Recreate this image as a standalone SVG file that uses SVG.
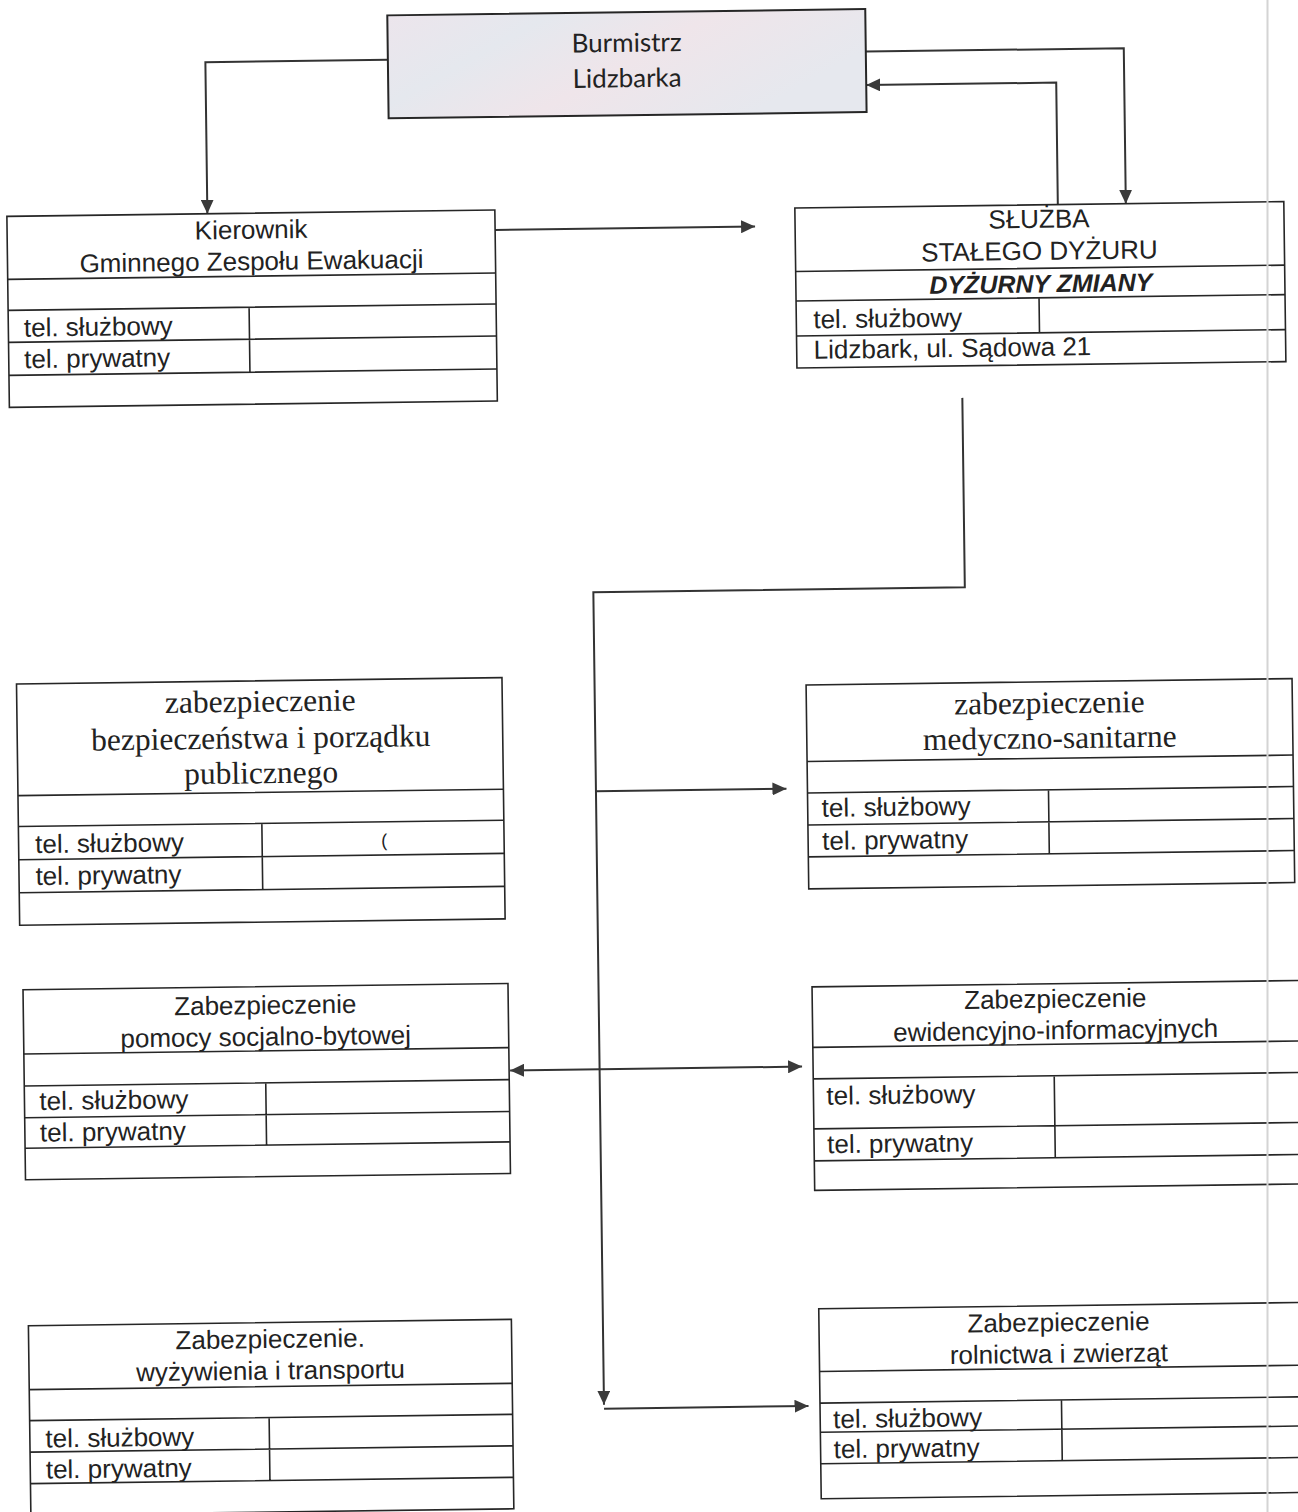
<svg xmlns="http://www.w3.org/2000/svg" width="1298" height="1512" viewBox="0 0 1298 1512">
<style>
.box{fill:#ffffff;stroke:#262626;stroke-width:1.6}
.ln{stroke:#262626;stroke-width:1.6;fill:none}
.t{font-family:"Liberation Sans",Arial,sans-serif;font-size:26px;fill:#222}
.c{text-anchor:middle}
.s{font-family:"Liberation Serif","Times New Roman",serif;font-size:31.5px;fill:#222;text-anchor:middle}
.cal{font-family:Lato,"Open Sans",sans-serif;font-size:26px;fill:#222;text-anchor:middle}
.bi{font-weight:bold;font-style:italic;font-size:25px}
.con{stroke:#333;stroke-width:2;fill:none}
</style>
<defs>
<marker id="ah" markerUnits="userSpaceOnUse" markerWidth="15" markerHeight="13" refX="14" refY="6.5" orient="auto-start-reverse">
<path d="M0,0 L14,6.5 L0,13 Z" fill="#3a3a3a"/>
</marker>
<linearGradient id="pastel" x1="0" y1="0" x2="1" y2="0.4">
<stop offset="0" stop-color="#ece5ec"/>
<stop offset="0.3" stop-color="#e5e8ee"/>
<stop offset="0.6" stop-color="#efe5ea"/>
<stop offset="1" stop-color="#e6e8ee"/>
</linearGradient>
</defs>
<rect x="0" y="0" width="1298" height="1512" fill="#ffffff"/>
<g transform="rotate(-0.75 649 756)">
<g id="connectors">
<path class="con" d="M397,56.5 H214.5 V208" marker-end="url(#ah)"/>
<path class="con" d="M875,54.5 H1133 V210" marker-end="url(#ah)"/>
<path class="con" d="M1065,210 V88 H875" marker-end="url(#ah)"/>
<path class="con" d="M502,228 H762" marker-end="url(#ah)"/>
<path class="con" d="M967,402 V591.5 H595.5 V1404" marker-end="url(#ah)"/>
<path class="con" d="M595.5,1408 H800" marker-end="url(#ah)"/>
<path class="con" d="M595.5,790.5 H786" marker-end="url(#ah)"/>
<path class="con" d="M506,1068.6 H798" marker-start="url(#ah)" marker-end="url(#ah)"/>
</g>
<g id="burmistrz">
<rect x="397" y="12" width="478" height="103" fill="url(#pastel)" stroke="#262626" stroke-width="2"/>
<text class="cal" x="636" y="51.5">Burmistrz</text>
<text class="cal" x="636" y="87">Lidzbarka</text>
</g>
<g id="kierownik">
<rect class="box" x="14" y="208" width="488" height="191"/>
<path class="ln" d="M14,271 H502 M14,302 H502 M14,334 H502 M14,367 H502 M255,302 V367"/>
<text class="t c" x="258" y="233.5">Kierownik</text>
<text class="t c" x="258" y="265">Gminnego Zespołu Ewakuacji</text>
<text class="t" x="29.5" y="328.5">tel. służbowy</text>
<text class="t" x="29.5" y="360">tel. prywatny</text>
</g>
<g id="sluzba">
<rect class="box" x="802" y="210" width="489" height="160"/>
<path class="ln" d="M802,273.5 H1291 M802,303 H1291 M802,338 H1291 M1045,303 V338"/>
<text class="t c" x="1046" y="233">SŁUŻBA</text>
<text class="t c" x="1046" y="265">STAŁEGO DYŻURU</text>
<text class="t c bi" x="1047" y="297.5">DYŻURNY ZMIANY</text>
<text class="t" x="819" y="330.5">tel. służbowy</text>
<text class="t" x="819" y="361">Lidzbark, ul. Sądowa 21</text>
</g>
<g id="bezpieczenstwo">
<rect class="box" x="17.5" y="675.7" width="485.5" height="241.3"/>
<path class="ln" d="M17.5,787.4 H503 M17.5,818.3 H503 M17.5,851.5 H503 M17.5,884.5 H503 M261,818.3 V884.5"/>
<text class="s" x="261" y="706.6">zabezpieczenie</text>
<text class="s" x="261" y="743.2">bezpieczeństwa i porządku</text>
<text class="s" x="261" y="778.2">publicznego</text>
<text class="t" x="380" y="843" style="font-size:18px">(</text>
<text class="t" x="34" y="845">tel. służbowy</text>
<text class="t" x="34" y="877">tel. prywatny</text>
</g>
<g id="pomoc">
<rect class="box" x="20" y="981.6" width="485" height="190"/>
<path class="ln" d="M20,1045.8 H505 M20,1077.8 H505 M20,1109.6 H505 M20,1140 H505 M261.5,1077.8 V1140"/>
<text class="t c" x="262" y="1009">Zabezpieczenie</text>
<text class="t c" x="262" y="1040.5">pomocy socjalno-bytowej</text>
<text class="t" x="35" y="1102">tel. służbowy</text>
<text class="t" x="35" y="1133.5">tel. prywatny</text>
</g>
<g id="wyzywienie">
<rect class="box" x="21" y="1317.5" width="483" height="189.5"/>
<path class="ln" d="M21,1381.5 H504 M21,1412.5 H504 M21,1444 H504 M21,1475.5 H504 M260.5,1412.5 V1475.5"/>
<text class="t c" x="262.5" y="1343">Zabezpieczenie.</text>
<text class="t c" x="262.5" y="1374.5">wyżywienia i transportu</text>
<text class="t" x="36.5" y="1439.5">tel. służbowy</text>
<text class="t" x="36.5" y="1470.5">tel. prywatny</text>
</g>
<g id="medyczne">
<rect class="box" x="807" y="687" width="486" height="204"/>
<path class="ln" d="M807,763.5 H1293 M807,795 H1293 M807,827 H1293 M807,859 H1293 M1048,795 V859"/>
<text class="s" x="1050" y="718.5">zabezpieczenie</text>
<text class="s" x="1050" y="753.5">medyczno-sanitarne</text>
<text class="t" x="821" y="819">tel. służbowy</text>
<text class="t" x="821" y="852">tel. prywatny</text>
</g>
<g id="ewidencja">
<rect class="box" x="809" y="989" width="491" height="203.5"/>
<path class="ln" d="M809,1049.5 H1300 M809,1081 H1300 M809,1131 H1300 M809,1163 H1300 M1050,1081 V1163"/>
<text class="t c" x="1052" y="1013">Zabezpieczenie</text>
<text class="t c" x="1052" y="1044.5">ewidencyjno-informacyjnych</text>
<text class="t" x="822" y="1107">tel. służbowy</text>
<text class="t" x="822" y="1155.5">tel. prywatny</text>
</g>
<g id="rolnictwo">
<rect class="box" x="811.5" y="1311" width="488.5" height="190"/>
<path class="ln" d="M811.5,1373.7 H1300 M811.5,1405.3 H1300 M811.5,1434.5 H1300 M811.5,1466 H1300 M1053,1405.3 V1466"/>
<text class="t c" x="1051" y="1336.5">Zabezpieczenie</text>
<text class="t c" x="1051" y="1368">rolnictwa i zwierząt</text>
<text class="t" x="824.5" y="1430.5">tel. służbowy</text>
<text class="t" x="824.5" y="1460.5">tel. prywatny</text>
</g>
</g>
<line x1="1267.5" y1="0" x2="1267.5" y2="1512" stroke="#d4d4d4" stroke-width="2"/>
</svg>
